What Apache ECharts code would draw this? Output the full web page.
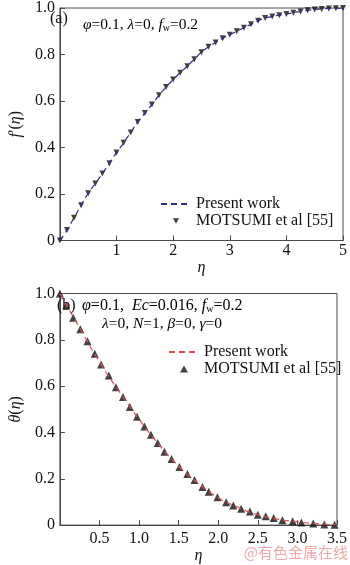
<!DOCTYPE html>
<html>
<head>
<meta charset="utf-8">
<script src="https://cdn.jsdelivr.net/npm/echarts@6/dist/echarts.min.js"></script>
<style>
html,body{margin:0;padding:0;background:#fff;}
#c{width:350px;height:565px;}
</style>
</head>
<body>
<div id="c"></div>
<script>
// Panel (a): f'(eta)
var etaA = [0,0.125,0.25,0.375,0.5,0.625,0.75,0.875,1.0,1.125,1.25,1.375,1.5,1.625,1.75,1.875,2.0,2.125,2.25,2.375,2.5,2.625,2.75,2.875,3.0,3.125,3.25,3.375,3.5,3.625,3.75,3.875,4.0,4.125,4.25,4.375,4.5,4.625,4.75,4.875,5.0];
var fpA  = [0,0.045,0.098,0.152,0.203,0.245,0.288,0.332,0.378,0.42,0.465,0.51,0.548,0.585,0.625,0.66,0.692,0.722,0.75,0.78,0.81,0.833,0.852,0.87,0.885,0.9,0.915,0.93,0.945,0.957,0.963,0.969,0.974,0.98,0.985,0.99,0.994,0.996,0.998,0.999,1.0];
// Panel (b): theta(eta)
var etaBline = [0,0.25,0.5,0.75,1.0,1.25,1.5,1.75,2.0,2.25,2.5,2.75,3.0,3.25,3.5];
var thBline  = [1.0,0.851,0.704,0.576,0.457,0.348,0.254,0.180,0.118,0.077,0.045,0.026,0.014,0.006,0.001];
var etaBpts = [0,0.08,0.168,0.258,0.348,0.44,0.52,0.617,0.708,0.797,0.883,0.974,1.068,1.15,1.236,1.32,1.41,1.51,1.61,1.70,1.80,1.88,1.99,2.10,2.19,2.29,2.40,2.50,2.60,2.70,2.81,2.94,3.05,3.20,3.34,3.47];
var thBpts  = [1.0,0.948,0.895,0.846,0.794,0.740,0.693,0.646,0.595,0.553,0.510,0.468,0.426,0.390,0.354,0.317,0.285,0.251,0.221,0.195,0.165,0.144,0.120,0.099,0.085,0.071,0.059,0.045,0.038,0.031,0.021,0.017,0.011,0.007,0.003,0.001];
var xTicksA = {min:0,max:5,interval:1};
var xTicksB = {min:0,max:3.5,interval:0.5};
var yTicks = {min:0,max:1,interval:0.2};

function zip(a,b){return a.map(function(v,i){return [v,b[i]];});}

var SERIF = '"Liberation Serif","DejaVu Serif",serif';
var axisColor = '#4a4a4a';
function xAxis(idx, t, fmt, margin){
  return {gridIndex:idx,type:'value',min:t.min,max:t.max,interval:t.interval,
    axisLine:{show:true,onZero:false,lineStyle:{color:axisColor,width:1}},
    axisTick:{show:true,inside:true,length:5,lineStyle:{color:axisColor}},
    splitLine:{show:false},
    axisLabel:{color:'#111',fontFamily:SERIF,fontSize:16,margin:margin,
      formatter:function(v){return v===0?'':fmt(v);}},
    name:'η',nameLocation:'middle',nameGap:19,
    nameTextStyle:{fontFamily:SERIF,fontSize:16,fontStyle:'italic',color:'#111'}};
}
function yAxis(idx, nameRich){
  return {gridIndex:idx,type:'value',min:yTicks.min,max:yTicks.max,interval:yTicks.interval,
    axisLine:{show:true,onZero:false,lineStyle:{color:axisColor,width:1}},
    axisTick:{show:true,inside:true,length:5,lineStyle:{color:axisColor}},
    splitLine:{show:false},
    axisLabel:{color:'#111',fontFamily:SERIF,fontSize:16,margin:5,
      formatter:function(v){return v===0?'0':v.toFixed(1);}},
    name:nameRich,nameLocation:'middle',nameGap:31,nameRotate:90,
    nameTextStyle:{fontFamily:SERIF,fontSize:16,color:'#111',
      rich:{i:{fontFamily:SERIF,fontSize:16,fontStyle:'italic',color:'#111'},
            n:{fontFamily:SERIF,fontSize:16,color:'#111'}}}};
}

function rich(sz){
  return {
    n:{fontFamily:SERIF,fontSize:sz,color:'#111'},
    i:{fontFamily:SERIF,fontSize:sz,fontStyle:'italic',color:'#111'},
    s:{fontFamily:SERIF,fontSize:10,color:'#111',verticalAlign:'bottom',padding:[6,0,0,0]}
  };
}
var legText = {fontFamily:SERIF,fontSize:16,color:'#111',lineHeight:15};
var fmtLeg = function(n){return n.replace(/ \(.\)$/,'');};

var chart = echarts.init(document.getElementById('c'),null,{renderer:'canvas'});
chart.setOption({
  animation:false,
  backgroundColor:'#fff',
  grid:[
    {left:45,top:4,width:298,height:236.5,show:true,borderColor:axisColor,borderWidth:1,backgroundColor:'transparent'},
    {left:45,top:293.5,width:298,height:237,show:true,borderColor:axisColor,borderWidth:1,backgroundColor:'transparent'}
  ],
  xAxis:[xAxis(0,xTicksA,function(v){return String(v);},2), xAxis(1,xTicksB,function(v){return v.toFixed(1);},6)],
  yAxis:[yAxis(0,"{i|f}{n|′(}{i|η}{n|)}"), yAxis(1,"{i|θ}{n|(}{i|η}{n|)}")],
  legend:[
    {left:155,top:191,orient:'vertical',itemWidth:30,itemHeight:8,itemGap:1,
     data:[{name:'Present work (a)',itemStyle:{opacity:0}},
           {name:'MOTSUMI et al [55] (a)',icon:'path://M0 0 M30 8 M12 1.2 L18 1.2 L15 6.8 Z'}],
     formatter:fmtLeg,textStyle:legText},
    {left:163,top:339,orient:'vertical',itemWidth:30,itemHeight:8,itemGap:1,
     data:[{name:'Present work (b)',itemStyle:{opacity:0}},
           {name:'MOTSUMI et al [55] (b)',icon:'path://M0 0 M30 8 M11 7.6 L19 7.6 L15 0.4 Z'}],
     formatter:fmtLeg,textStyle:legText}
  ],
  series:[
    {name:'Present work (a)',type:'line',xAxisIndex:0,yAxisIndex:0,data:zip(etaA,fpA),smooth:true,symbol:'none',
     lineStyle:{color:'#2d2d8c',width:1.2,type:[6,4]},itemStyle:{color:'#2d2d8c'}},
    {name:'MOTSUMI et al [55] (a)',type:'scatter',xAxisIndex:0,yAxisIndex:0,data:zip(etaA,fpA),
     symbol:'triangle',symbolSize:6,symbolRotate:180,itemStyle:{color:'#111'}},
    {name:'Present work (b)',type:'line',xAxisIndex:1,yAxisIndex:1,data:zip(etaBline,thBline),smooth:true,symbol:'none',
     lineStyle:{color:'#e05050',width:1.2,type:[6,4]},itemStyle:{color:'#e05050'}},
    {name:'MOTSUMI et al [55] (b)',type:'scatter',xAxisIndex:1,yAxisIndex:1,data:zip(etaBpts,thBpts),
     symbol:'triangle',symbolSize:8,itemStyle:{color:'#111'}}
  ],
  graphic:[
    {type:'text',left:50,top:11,z:100,style:{text:'(a)',fontFamily:SERIF,fontSize:16,fill:'#111'}},
    {type:'text',left:83,top:17,z:100,style:{text:'{i|φ}{n|=0.1, }{i|λ}{n|=0, }{i|f}{s|w}{n|=0.2}',rich:rich(15.5)}},
    {type:'text',left:57,top:298,z:100,style:{text:'(b)',fontFamily:SERIF,fontSize:16,fill:'#111'}},
    {type:'text',left:82,top:298,z:100,style:{text:'{i|φ}{n|=0.1,  }{i|Ec}{n|=0.016, }{i|f}{s|w}{n|=0.2}',rich:rich(16)}},
    {type:'text',left:102,top:316,z:100,style:{text:'{i|λ}{n|=0, }{i|N}{n|=1, }{i|β}{n|=0, }{i|γ}{n|=0}',rich:rich(15.5)}},
    {type:'text',right:2,top:545,z:100,style:{text:'@有色金属在线',fontFamily:'"Noto Sans CJK SC"',fontSize:15,fill:'#f2a8a8'}}
  ]
});
</script>
</body>
</html>
